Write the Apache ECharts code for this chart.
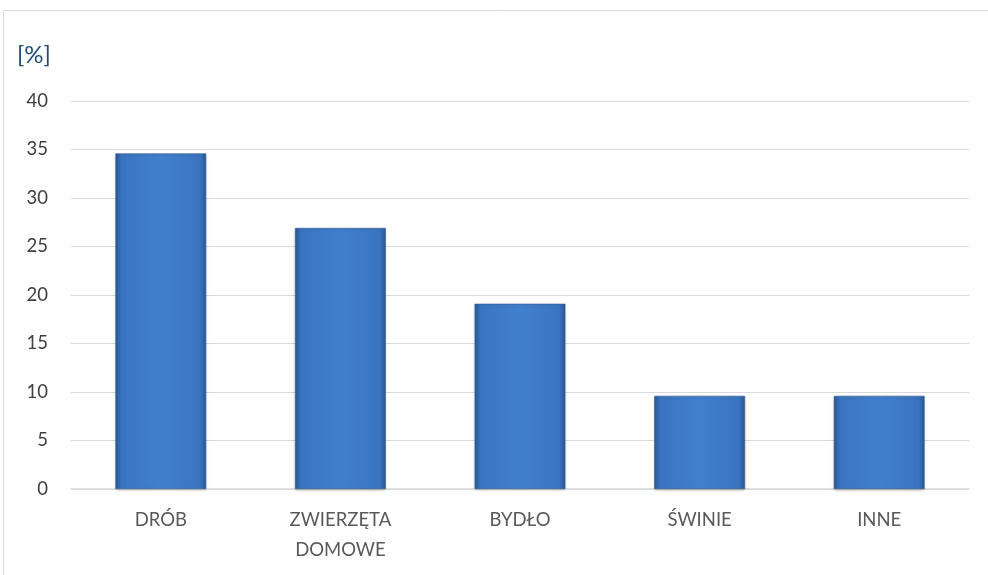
<!DOCTYPE html>
<html><head><meta charset="utf-8">
<script src="https://cdn.jsdelivr.net/npm/echarts@6/dist/echarts.min.js"></script>
<style>html,body{margin:0;padding:0;background:#fff}#c{width:988px;height:575px}</style>
</head><body><div id="c"></div>
<script>
const categories = ['DRÓB', 'ZWIERZĘTA\nDOMOWE', 'BYDŁO', 'ŚWINIE', 'INNE'];
const values = [34.6, 26.9, 19.1, 9.6, 9.6];
const yTicks = [0, 5, 10, 15, 20, 25, 30, 35, 40];
const unitLabel = '[%]';

const chart = echarts.init(document.getElementById('c'), null, {renderer: 'canvas'});
const barColor = new echarts.graphic.LinearGradient(0, 0, 1, 0, [
  {offset: 0, color: '#2a5a96'},
  {offset: 0.07, color: '#3a74c0'},
  {offset: 0.5, color: '#4180cc'},
  {offset: 0.93, color: '#3a74c0'},
  {offset: 1, color: '#2a5a96'}
]);
chart.setOption({
  animation: false,
  textStyle: {fontFamily: 'Lato'},
  graphic: [
    {type: 'rect', shape: {x: 3.5, y: 10.5, width: 1000, height: 600}, style: {fill: 'none', stroke: '#d9d9d9', lineWidth: 1}, z: -1},
    {type: 'text', left: 17, top: 43, style: {text: unitLabel, fill: '#1f4e79', font: '24px Lato'}}
  ],
  grid: {left: 71, right: 19, top: 101, bottom: 86},
  xAxis: {
    type: 'category', data: categories,
    axisLine: {lineStyle: {color: '#d9d9d9', width: 1.5}},
    axisTick: {show: false},
    axisLabel: {color: '#595959', fontSize: 18.5, margin: 16, lineHeight: 30, fontFamily: 'Lato'}
  },
  yAxis: {
    type: 'value', min: yTicks[0], max: yTicks[yTicks.length - 1], interval: 5,
    axisLine: {show: false}, axisTick: {show: false},
    splitLine: {lineStyle: {color: '#d9d9d9', width: 1}},
    axisLabel: {color: '#404040', fontSize: 18.5, margin: 23, fontFamily: 'Lato'}
  },
  series: [{
    type: 'bar', data: values, barWidth: '50.5%',
    itemStyle: {color: barColor, borderColor: '#2a5890', borderWidth: 0.5,
      shadowColor: 'rgba(0,0,0,0.25)', shadowBlur: 3, shadowOffsetY: 1}
  }]
});
</script></body></html>
